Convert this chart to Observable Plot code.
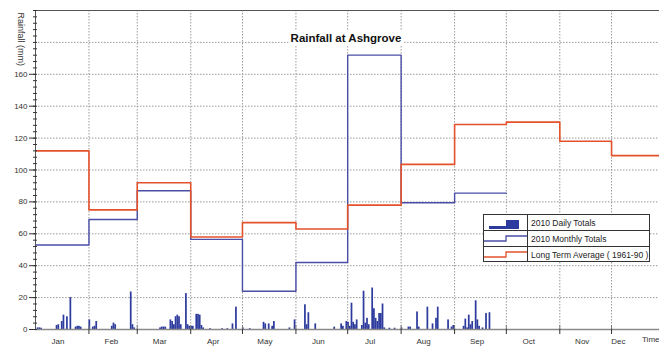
<!DOCTYPE html>
<html><head><meta charset="utf-8">
<script src="https://cdn.jsdelivr.net/npm/d3@7"></script>
<script src="https://cdn.jsdelivr.net/npm/@observablehq/plot@0.6"></script>
<style>
body{margin:0;background:#fff;}
#wrap{position:relative;width:659px;height:346px;font-family:"Liberation Sans",Arial,sans-serif;}
#title{position:absolute;left:346px;top:31px;transform:translateX(-50%);background:#fff;padding:0 2px;font-weight:bold;font-size:11.5px;line-height:14px;color:#111;white-space:nowrap;}
</style></head><body><div id="wrap"></div>
<script>
const year = 2010;
const titleText = "Rainfall at Ashgrove";
const yLabel = "Rainfall (mm)";
const xLabel = "Time";
const months = ["Jan","Feb","Mar","Apr","May","Jun","Jul","Aug","Sep","Oct","Nov","Dec"];
const monthlyTotals2010 = [53, 69, 87, 56.5, 24, 42, 172, 79.5, 85.5];
const longTermAverage = [112, 75, 92, 58, 67, 63, 78, 103.5, 128.5, 130, 118, 109];
const yTickValues = [0, 20, 40, 60, 80, 100, 120, 140, 160];
const legendLabels = ["2010 Daily Totals", "2010 Monthly Totals", "Long Term Average ( 1961-90 )"];
const dailyDates = [
 "01-02","01-03","01-04","01-13","01-14","01-16","01-17","01-19","01-21","01-24","01-25","01-26","01-27",
 "02-01","02-03","02-04","02-05","02-14","02-15","02-16","02-25","02-26","02-27",
 "03-14","03-15","03-16","03-17","03-20","03-21","03-22","03-23","03-24","03-25","03-26","03-29","03-30","03-31",
 "04-01","04-02","04-04","04-05","04-06","04-07","04-08","04-12","04-19","04-22","04-25","04-27",
 "05-01","05-05","05-13","05-14","05-16","05-18","05-19","05-28","05-31",
 "06-06","06-07","06-08","06-12","06-23","06-27","06-28","06-30",
 "07-01","07-02","07-03","07-04","07-05","07-06","07-09","07-10","07-11","07-12","07-13","07-15","07-16","07-17","07-18","07-19","07-20","07-21","07-22","07-25","07-28",
 "08-01","08-05","08-06","08-10","08-11","08-16","08-19","08-21","08-22","08-28","08-30","08-31",
 "09-06","09-07","09-08","09-09","09-10","09-11","09-13","09-14","09-15","09-17","09-19","09-21"
];
const dailyRain = [
 1,1,0.8,2.5,3,5,9,8,20,1.5,2,2,1.5,
 6,1.5,2,5,2,4,3,23.5,3,1,
 1,1.5,1.5,1.5,6,5,3,8,9,8,3,22.5,3,2,
 2,2,9.5,9.5,9,2.5,1,0.5,0.5,0.5,3.5,14,
 1,0.5,4.5,3.5,3.5,2,5,1,6,
 15.5,3,10.5,3.5,1.5,3.5,2,5,
 4.5,2,16.5,4.5,3,6,2.5,24,4,7,3,26,13,7,5,10,10,16,1,0.8,0.8,
 1,1.5,1.5,11,1.5,14,3.5,7,14,6,1.5,2.5,
 2,6.5,1,9,3,5,18,6,2,1,10,10.5
];

const DAY = 864e5;
const monthStart = i => new Date(Date.UTC(year, i, 1));
const blue = "#4a4ea6", red = "#e4522c", barBlue = "#2c3b9d", grid = "#9a9a9a";

const steps = vals => {
  const pts = vals.map((v, i) => ({date: monthStart(i), value: v}));
  pts.push({date: monthStart(vals.length), value: vals[vals.length - 1]});
  return pts;
};
const monthlyPts = steps(monthlyTotals2010);
const ltaPts = steps(longTermAverage);
const daily = dailyDates.map((d, i) => ({date: new Date(`${year}-${d}T00:00:00Z`), rain: dailyRain[i]}));
const boundaries = d3.range(1, 12).map(monthStart);
const labelDates = months.map((m, i) => i < 11 ? new Date(Date.UTC(year, i, 14)) : new Date(Date.UTC(year, i, 5)));
const xDomain = [monthStart(0), new Date(+monthStart(0) + 361.8 * DAY)];

const chart = Plot.plot({
  width: 659, height: 346,
  marginLeft: 35, marginRight: 0, marginTop: 10, marginBottom: 17,
  style: {fontFamily: "'Liberation Sans', Arial, sans-serif", fontSize: "8px", background: "#fff", color: "#333", overflow: "visible"},
  x: {type: "utc", domain: xDomain},
  y: {domain: [0, 200]},
  marks: [
    Plot.ruleY(d3.range(20, 200, 20), {stroke: grid, strokeDasharray: "1.5,1.5"}),
    Plot.ruleX(boundaries, {stroke: grid, strokeDasharray: "1.5,1.5"}),
    Plot.ruleY([200], {stroke: "#555"}),
    Plot.rectY(daily, {x1: "date", x2: d => new Date(+d.date + DAY), y: "rain", fill: barBlue}),
    Plot.ruleY([0], {stroke: "#8a8a8a", strokeWidth: 1.5}),
    Plot.ruleX(boundaries, {y1: 0, y2: 2.5, stroke: "#777"}),
    Plot.line(monthlyPts, {x: "date", y: "value", curve: "step-after", stroke: blue, strokeWidth: 1.4}),
    Plot.line(ltaPts, {x: "date", y: "value", curve: "step-after", stroke: red, strokeWidth: 1.6, clip: true}),
    Plot.ruleX([xDomain[0]], {stroke: "#555"}),
    Plot.axisY({ticks: yTickValues, tickSize: 6, tickPadding: 2, label: null, fill: "#333"}),
    Plot.axisY({ticks: d3.range(0, 201, 4), tickSize: 4, tickFormat: () => "", label: null, dx: 2}),
    Plot.axisX({ticks: boundaries, tickSize: 5, tickFormat: () => "", label: null}),
    Plot.axisX({ticks: labelDates, tickSize: 0, tickPadding: 9, tickFormat: d => months[d.getUTCMonth()], label: null, fill: "#333"}),
    Plot.text([xLabel], {frameAnchor: "bottom-right", dy: 12, textAnchor: "end", fill: "#333"}),
    Plot.text([yLabel], {frameAnchor: "top-left", dx: -15, dy: 2, rotate: 90, textAnchor: "start", lineAnchor: "middle", fill: "#333", fontSize: 9})
  ]
});

const wrap = document.getElementById("wrap");
wrap.appendChild(chart);

const title = document.createElement("div");
title.id = "title";
title.textContent = titleText;
wrap.appendChild(title);

// legend
const lw = 167, lh = 48, rowH = 16, div = 44;
const lg = d3.create("svg").attr("width", lw).attr("height", lh)
  .style("position", "absolute").style("left", "483px").style("top", "214px");
lg.append("rect").attr("x", 0.5).attr("y", 0.5).attr("width", lw - 1).attr("height", lh - 1).attr("fill", "#fff").attr("stroke", "#333");
[1, 2].forEach(r => lg.append("line").attr("x1", 0).attr("x2", lw).attr("y1", r * rowH + 0.5).attr("y2", r * rowH + 0.5).attr("stroke", "#333"));
lg.append("line").attr("x1", div + 0.5).attr("x2", div + 0.5).attr("y1", 0).attr("y2", lh).attr("stroke", "#333");
lg.append("path").attr("d", "M6,15V12H23V6H36V15Z").attr("fill", barBlue);
lg.append("path").attr("d", `M1,${rowH + 11}H23V${rowH + 6}H${div}`).attr("fill", "none").attr("stroke", blue).attr("stroke-width", 1.3);
lg.append("path").attr("d", `M1,${2 * rowH + 11}H23V${2 * rowH + 6}H${div}`).attr("fill", "none").attr("stroke", red).attr("stroke-width", 1.3);
legendLabels.forEach((t, i) => lg.append("text").attr("x", div + 4).attr("y", i * rowH + rowH / 2 + 0.5)
  .attr("dominant-baseline", "central").attr("font-size", 8.5).attr("fill", "#222")
  .attr("font-family", "'Liberation Sans', Arial, sans-serif").text(t));
wrap.appendChild(lg.node());
</script></body></html>
